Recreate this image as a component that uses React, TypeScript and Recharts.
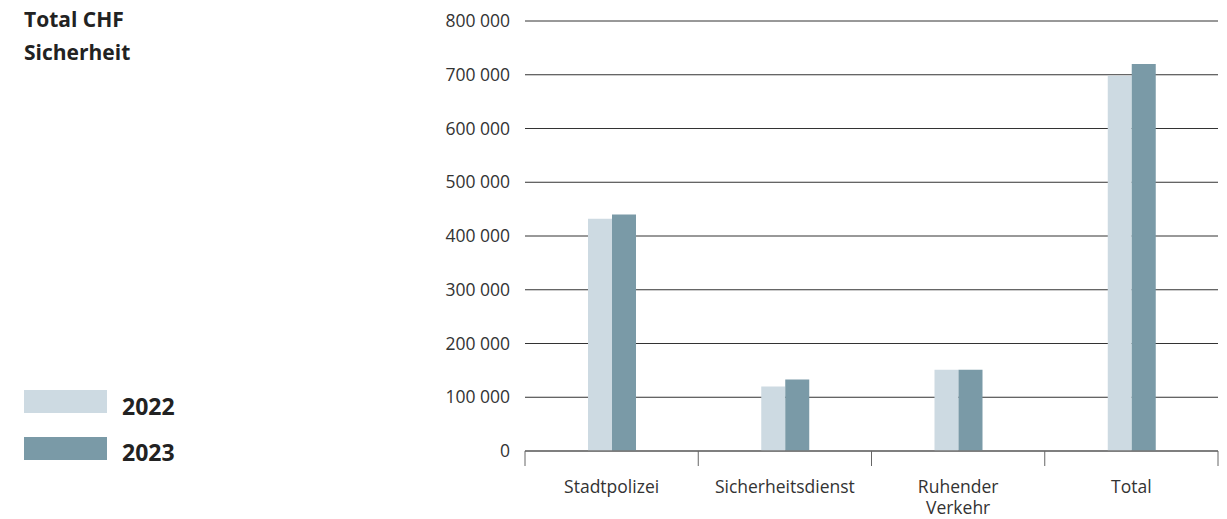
import React from 'react';
import { BarChart, Bar, XAxis, YAxis, CartesianGrid } from 'recharts';

// --- Data ---
const categories = ['Stadtpolizei', 'Sicherheitsdienst', 'Ruhender Verkehr', 'Total'];
const values2022 = [432000, 120000, 151000, 698000];
const values2023 = [440000, 133000, 151000, 720000];
const yTicks = [0, 100000, 200000, 300000, 400000, 500000, 600000, 700000, 800000];
const seriesNames = ['2022', '2023'];

const chartData = categories.map((name, i) => ({
  name,
  v2022: values2022[i],
  v2023: values2023[i],
}));

const COLOR_2022 = '#cddae2';
const COLOR_2023 = '#7a9aa7';
const FONT = '"Open Sans", "Noto Sans", sans-serif';

const CHART_W = 1227;
const CHART_H = 519;
const X_AXIS_H = 30;
const MARGIN = { top: 21, right: 9, left: 425, bottom: 68 - X_AXIS_H };
const Y_AXIS_W = 100;
const PLOT_W = CHART_W - MARGIN.left - MARGIN.right - Y_AXIS_W;
const BAND = PLOT_W / categories.length;

const formatThousands = (v: number) => String(v).replace(/\B(?=(\d{3})+(?!\d))/g, ' ');

// category label + boundary tick marks
const CategoryTick = (props: any) => {
  const { x, y, payload, index } = props;
  const words: string[] = String(payload.value).split(' ');
  const left = x - BAND / 2;
  const right = x + BAND / 2;
  return (
    <g>
      <line x1={left} x2={left} y1={y} y2={y + 15} stroke="#666" strokeWidth={1} />
      {index === categories.length - 1 && (
        <line x1={right} x2={right} y1={y} y2={y + 15} stroke="#666" strokeWidth={1} />
      )}
      <text x={x} y={y + 42} textAnchor="middle" fill="#333" fontSize={17.5} fontFamily={FONT}>
        {words.map((w, i) => (
          <tspan key={i} x={x} dy={i === 0 ? 0 : 21}>
            {w}
          </tspan>
        ))}
      </text>
    </g>
  );
};

const App: React.FC = () => (
  <div style={{ position: 'absolute', left: 0, top: 0, width: CHART_W, height: CHART_H, background: '#fff', fontFamily: FONT }}>
    <div style={{ position: 'absolute', left: 24, top: 3, fontSize: 21, fontWeight: 700, color: '#222', lineHeight: '33px' }}>
      Total CHF
      <br />
      Sicherheit
    </div>

    {[COLOR_2022, COLOR_2023].map((c, i) => (
      <React.Fragment key={i}>
        <div style={{ position: 'absolute', left: 24, top: 390 + i * 47, width: 83, height: 23, background: c }} />
        <div
          style={{
            position: 'absolute',
            left: 122,
            top: 390 + i * 46,
            height: 32,
            lineHeight: '32px',
            fontSize: 23,
            fontWeight: 700,
            color: '#222',
          }}
        >
          {seriesNames[i]}
        </div>
      </React.Fragment>
    ))}

    <div style={{ position: 'absolute', left: 0, top: 0 }}>
      <BarChart
        width={CHART_W}
        height={CHART_H}
        data={chartData}
        margin={MARGIN}
        barGap={0}
        barSize={24}
      >
        <CartesianGrid vertical={false} stroke="#333" strokeWidth={1} />
        <XAxis
          dataKey="name"
          height={X_AXIS_H}
          axisLine={{ stroke: '#777', strokeWidth: 1.5 }}
          tickLine={false}
          tickSize={0}
          tickMargin={0}
          interval={0}
          tick={<CategoryTick />}
        />
        <YAxis
          width={Y_AXIS_W}
          domain={[0, 800000]}
          ticks={yTicks}
          axisLine={false}
          tickLine={false}
          tickSize={0}
          tickMargin={15}
          tickFormatter={formatThousands}
          tick={{ fill: '#333', fontSize: 17.5, fontFamily: FONT }}
        />
        <Bar dataKey="v2022" name={seriesNames[0]} fill={COLOR_2022} isAnimationActive={false} />
        <Bar dataKey="v2023" name={seriesNames[1]} fill={COLOR_2023} isAnimationActive={false} />
      </BarChart>
    </div>
  </div>
);

export default App;
